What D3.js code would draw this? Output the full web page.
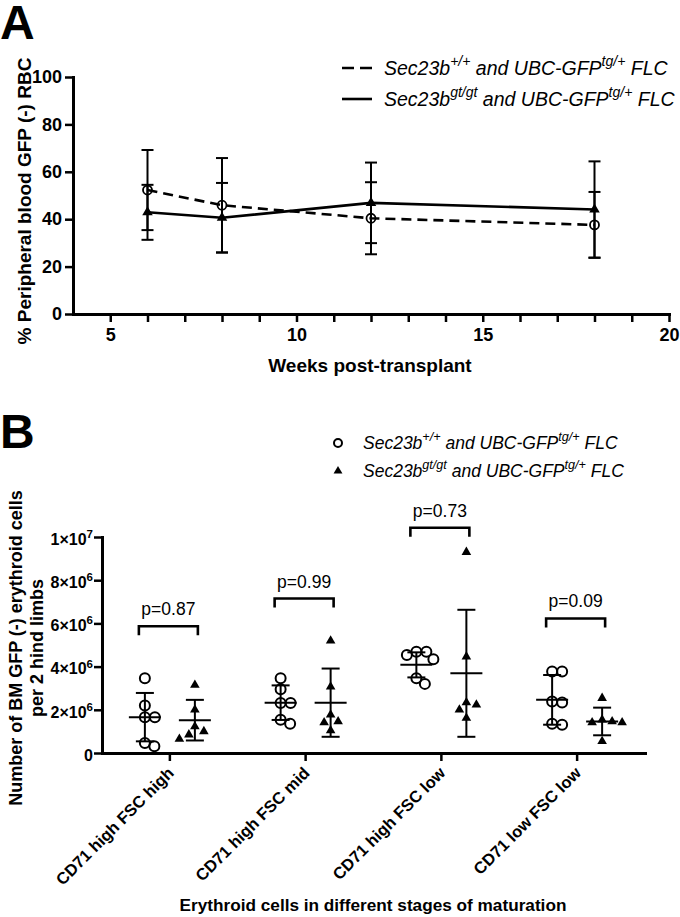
<!DOCTYPE html>
<html><head><meta charset="utf-8">
<script src="https://cdn.jsdelivr.net/npm/d3@7/dist/d3.min.js"></script>
<style>
body{margin:0;background:#fff}
svg{display:block}
text{font-family:"Liberation Sans",Arial,sans-serif;fill:#000}
</style>
</head><body>
<svg id="c" width="680" height="917"></svg>
<script>
// ---------- Panel A data ----------
const weeks = [6, 8, 12, 18];
const wtMean = [52.3, 45.9, 40.4, 37.6];
const wtSD = [16.9, 19.9, 15.2, 13.9];
const gtMean = [42.9, 40.6, 46.9, 44.1];
const gtSD = [11.6, 14.7, 17.0, 20.3];
const weekTicks = d3.range(5, 21);
const weekLabels = [5, 10, 15, 20];
const pctTicks = [0, 20, 40, 60, 80, 100];

// ---------- Panel B data (cells, x10^6) ----------
const stages = ["CD71 high FSC high", "CD71 high FSC mid", "CD71 high FSC low", "CD71 low FSC low"];
const wtCells = [
  [3.46, 2.20, 1.66, 1.66, 0.46, 0.31],
  [3.46, 2.95, 2.31, 2.31, 1.54, 1.35],
  [4.69, 4.69, 4.54, 4.34, 3.46, 3.20],
  [3.77, 3.77, 2.38, 2.34, 1.35, 1.31]
];
const gtCells = [
  [3.15, 2.00, 1.23, 1.00, 0.85, 0.65],
  [5.20, 3.07, 1.77, 1.46, 1.41, 1.04],
  [9.30, 4.46, 2.34, 2.23, 2.00, 1.62],
  [2.54, 1.54, 1.46, 1.41, 1.41, 0.54]
];
const wtCellMean = [1.66, 2.33, 4.08, 2.46];
const wtCellSD = [1.12, 0.80, 0.58, 1.15];
const gtCellMean = [1.52, 2.33, 3.69, 1.46];
const gtCellSD = [0.94, 1.58, 2.94, 0.64];
const pValues = ["p=0.87", "p=0.99", "p=0.73", "p=0.09"];
const bracketLevel = [5.87, 7.15, 10.43, 6.23];
const cellTicks = [0, 2, 4, 6, 8, 10];

const legendParts = [
  [["Sec23b"], ["+/+", 1], [" and UBC-GFP"], ["tg/+", 1], [" FLC"]],
  [["Sec23b"], ["gt/gt", 1], [" and UBC-GFP"], ["tg/+", 1], [" FLC"]]
];

const svg = d3.select("#c");
const FONT = '"Liberation Sans",Arial,sans-serif';

function rich(textSel, parts, fs) {
  let up = false;
  parts.forEach(p => {
    const t = textSel.append("tspan").text(p[0]);
    if (p[1]) { t.attr("font-size", fs * 0.72).attr("dy", up ? 0 : -fs * 0.42); up = true; }
    else { if (up) t.attr("dy", fs * 0.42); up = false; }
  });
}

function styleAxis(g, fs, weight) {
  g.select(".domain").attr("stroke-width", 3).attr("stroke-linecap", "square");
  g.selectAll(".tick line").attr("stroke-width", 2.5);
  g.selectAll(".tick text").attr("font-size", fs).attr("font-weight", weight).attr("font-family", FONT).attr("fill", "#000");
}

// ================= Panel A =================
svg.append("text").attr("x", 0).attr("y", 39).attr("font-size", 48).attr("font-weight", "bold").text("A");

const xA = d3.scaleLinear().domain([4, 20]).range([73, 669]);
const yA = d3.scaleLinear().domain([0, 100]).range([314, 77]);

const gAx = svg.append("g").attr("transform", "translate(0,314)")
  .call(d3.axisBottom(xA).tickValues(weekTicks).tickFormat(d => weekLabels.includes(d) ? d : "")
    .tickSize(8).tickSizeOuter(0).tickPadding(6));
styleAxis(gAx, 18, "bold");
const gAy = svg.append("g").attr("transform", "translate(73,0)")
  .call(d3.axisLeft(yA).tickValues(pctTicks).tickSize(8).tickSizeOuter(0).tickPadding(3));
styleAxis(gAy, 18, "bold");

svg.append("text").attr("transform", "translate(31,201) rotate(-90)").attr("text-anchor", "middle")
  .attr("font-size", 19).attr("font-weight", "bold").text("% Peripheral blood GFP (-) RBC");
svg.append("text").attr("x", 370).attr("y", 372).attr("text-anchor", "middle")
  .attr("font-size", 19).attr("font-weight", "bold").text("Weeks post-transplant");

const seriesA = [
  {mean: wtMean, sd: wtSD, dash: "10,6", marker: "circle"},
  {mean: gtMean, sd: gtSD, dash: null, marker: "tri"}
];
const gA = svg.append("g");
seriesA.forEach(s => {
  weeks.forEach((w, i) => {
    const x = xA(w), y1 = yA(s.mean[i] - s.sd[i]), y2 = yA(s.mean[i] + s.sd[i]);
    gA.append("line").attr("x1", x).attr("x2", x).attr("y1", y1).attr("y2", y2).attr("stroke", "#000").attr("stroke-width", 2);
    [y1, y2].forEach(yy => gA.append("line").attr("x1", x - 6).attr("x2", x + 6).attr("y1", yy).attr("y2", yy).attr("stroke", "#000").attr("stroke-width", 2));
  });
});
seriesA.forEach(s => {
  const line = d3.line().x((d, i) => xA(weeks[i])).y(d => yA(d));
  const p = gA.append("path").attr("d", line(s.mean)).attr("fill", "none").attr("stroke", "#000").attr("stroke-width", 2.6);
  if (s.dash) p.attr("stroke-dasharray", s.dash);
});
seriesA.forEach(s => {
  weeks.forEach((w, i) => {
    if (s.marker === "circle") {
      gA.append("circle").attr("cx", xA(w)).attr("cy", yA(s.mean[i])).attr("r", 4.5).attr("fill", "none").attr("stroke", "#000").attr("stroke-width", 1.8);
    } else {
      gA.append("path").attr("d", d3.symbol(d3.symbolTriangle, 48)()).attr("transform", `translate(${xA(w)},${yA(s.mean[i])})`).attr("fill", "#000");
    }
  });
});

// legend A
[0, 1].forEach(k => {
  const ly = 68 + k * 31;
  const l = svg.append("line").attr("x1", 342).attr("x2", 372).attr("y1", ly).attr("y2", ly).attr("stroke", "#000").attr("stroke-width", 2.6);
  if (k === 0) l.attr("stroke-dasharray", "12,6");
  const t = svg.append("text").attr("x", 384).attr("y", ly + 6.5).attr("font-size", 19.5).attr("font-style", "italic");
  rich(t, legendParts[k], 19.5);
});

// ================= Panel B =================
svg.append("text").attr("x", 0).attr("y", 448).attr("font-size", 48).attr("font-weight", "bold").text("B");

const xB = d3.scaleBand().domain(stages).range([102, 645]);
const yB = d3.scaleLinear().domain([0, 10]).range([753, 537]);
const cx = s => xB(s) + xB.bandwidth() / 2;

const gBy = svg.append("g").attr("transform", "translate(102,0)")
  .call(d3.axisLeft(yB).tickValues(cellTicks).tickSize(8).tickSizeOuter(0).tickPadding(1));
styleAxis(gBy, 16, "bold");
gBy.selectAll(".tick text").each(function(d) {
  const t = d3.select(this); t.text("");
  if (d === 0) t.text("0");
  else if (d === 10) rich(t, [["1×10"], ["7", 1]], 16);
  else rich(t, [[d + "×10"], ["6", 1]], 16);
});
gBy.selectAll(".tick text").attr("dy", "0.45em");

const gBx = svg.append("g").attr("transform", "translate(0,753)")
  .call(d3.axisBottom(xB).tickSize(8).tickSizeOuter(0));
styleAxis(gBx, 16.5, "bold");
gBx.selectAll(".tick text").remove();
stages.forEach(s => {
  svg.append("text").attr("transform", `translate(${cx(s) + 5},774) rotate(-45)`).attr("text-anchor", "end")
    .attr("font-size", 16.5).attr("font-weight", "bold").text(s);
});

const yl = svg.append("text").attr("transform", "translate(0,648) rotate(-90)").attr("text-anchor", "middle")
  .attr("font-size", 18).attr("font-weight", "bold");
yl.append("tspan").attr("x", 0).attr("y", 22).text("Number of BM GFP (-) erythroid cells");
yl.append("tspan").attr("x", 0).attr("y", 43).text("per 2 hind limbs");

svg.append("text").attr("x", 373).attr("y", 911).attr("text-anchor", "middle")
  .attr("font-size", 17.2).attr("font-weight", "bold").text("Erythroid cells in different stages of maturation");

// beeswarm placement
function swarm(vals, minD) {
  const placed = [];
  return vals.map(v => {
    const py = yB(v);
    let off = 0;
    for (let k = 0; k < 200; k++) {
      const cand = k === 0 ? 0 : (k % 2 ? 1 : -1) * Math.ceil(k / 2) * 0.5;
      if (placed.every(p => Math.hypot(p[0] - cand, p[1] - py) >= minD)) { off = cand; break; }
    }
    placed.push([off, py]);
    return {off, py};
  });
}

const gB = svg.append("g");
const groups = [
  {cells: wtCells, mean: wtCellMean, sd: wtCellSD, shift: -25, marker: "circle"},
  {cells: gtCells, mean: gtCellMean, sd: gtCellSD, shift: 25, marker: "tri"}
];
stages.forEach((s, i) => {
  groups.forEach(g => {
    const x0 = cx(s) + g.shift;
    swarm(g.cells[i], 10).forEach(pt => {
      if (g.marker === "circle") {
        gB.append("circle").attr("cx", x0 + pt.off).attr("cy", pt.py).attr("r", 5).attr("fill", "none").attr("stroke", "#000").attr("stroke-width", 2);
      } else {
        gB.append("path").attr("d", d3.symbol(d3.symbolTriangle, 40)()).attr("transform", `translate(${x0 + pt.off},${pt.py})`).attr("fill", "#000");
      }
    });
    const m = g.mean[i], sd = g.sd[i];
    const ym = yB(m), y1 = yB(m - sd), y2 = yB(m + sd);
    gB.append("line").attr("x1", x0).attr("x2", x0).attr("y1", y1).attr("y2", y2).attr("stroke", "#000").attr("stroke-width", 2);
    gB.append("line").attr("x1", x0 - 16).attr("x2", x0 + 16).attr("y1", ym).attr("y2", ym).attr("stroke", "#000").attr("stroke-width", 2);
    [y1, y2].forEach(yy => gB.append("line").attr("x1", x0 - 9).attr("x2", x0 + 9).attr("y1", yy).attr("y2", yy).attr("stroke", "#000").attr("stroke-width", 2));
  });
  // bracket
  const by = yB(bracketLevel[i]);
  const bx1 = cx(s) - 31, bx2 = cx(s) + 28;
  gB.append("path").attr("d", `M${bx1},${by + 9}V${by}H${bx2}V${by + 9}`).attr("fill", "none").attr("stroke", "#000").attr("stroke-width", 2.6);
  gB.append("text").attr("x", (bx1 + bx2) / 2).attr("y", by - 11).attr("text-anchor", "middle").attr("font-size", 17.5).text(pValues[i]);
});

// legend B
[0, 1].forEach(k => {
  const ly = 443 + k * 28;
  if (k === 0) svg.append("circle").attr("cx", 338).attr("cy", ly).attr("r", 4).attr("fill", "none").attr("stroke", "#000").attr("stroke-width", 2);
  else svg.append("path").attr("d", d3.symbol(d3.symbolTriangle, 34)()).attr("transform", `translate(338,${ly})`).attr("fill", "#000");
  const t = svg.append("text").attr("x", 363).attr("y", ly + 5.5).attr("font-size", 17.5).attr("font-style", "italic");
  rich(t, legendParts[k], 17.5);
});
</script>
</body></html>
